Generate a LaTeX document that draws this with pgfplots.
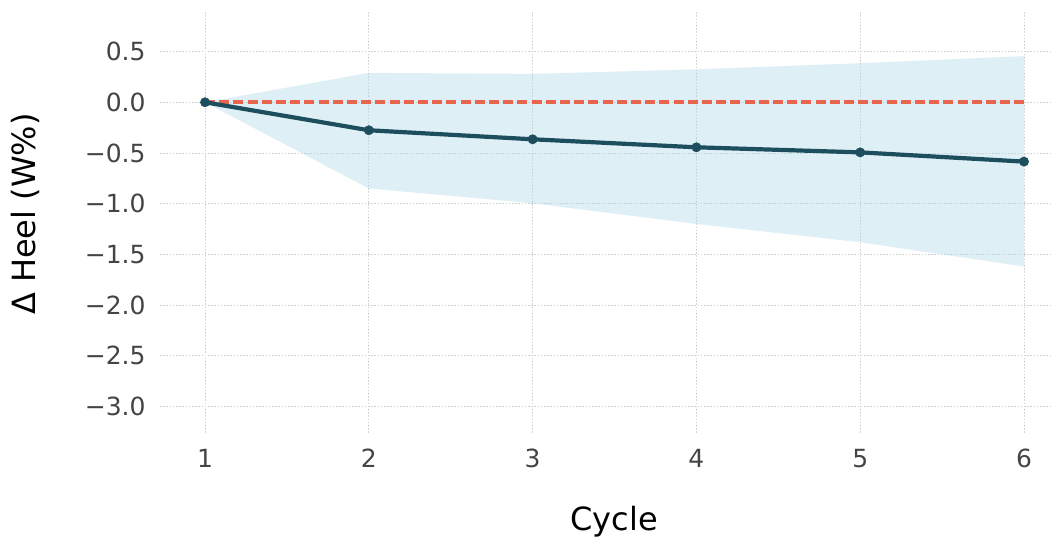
\documentclass[border=0pt]{standalone}
\usepackage{fontspec}
\setmainfont{DejaVu Sans}
\usepackage{pgfplots}
\pgfplotsset{compat=1.18}
\definecolor{meanline}{RGB}{29,78,93}
\definecolor{zeroline}{RGB}{233,100,76}
\definecolor{bandfill}{RGB}{173,216,230}
\definecolor{ticktext}{RGB}{68,68,68}
\begin{document}
\begin{tikzpicture}
\begin{axis}[
  name=ax,
  scale only axis,
  width=446.5pt, height=211pt,
  xmin=0.725, xmax=6.177,
  ymin=-3.261, ymax=0.900,
  xtick={1,2,3,4,5,6},
  ytick={-3,-2.5,-2,-1.5,-1,-0.5,0,0.5},
  yticklabels={−3.0,−2.5,−2.0,−1.5,−1.0,−0.5,0.0,0.5},
  /pgf/number format/assume math mode=true,
  axis line style={draw=none},
  major tick length=0pt,
  grid=major,
  grid style={gray!35, line width=0.45pt, dash pattern=on 0.8pt off 0.8pt},
  tick label style={font=\fontsize{12.5}{14}\selectfont, text=ticktext},
  yticklabel style={anchor=east, inner sep=0pt, xshift=-7pt},
  xticklabel style={anchor=north, inner sep=0pt, yshift=-8pt},
  label style={font=\fontsize{16}{19}\selectfont, text=black},
  xlabel={Cycle},
  ylabel={Δ Heel (W\%)},
  xlabel style={at={([xshift=3.75pt,yshift=-44.5pt]rel axis cs:0.5,0)}, anchor=center},
  ylabel style={at={([xshift=-67.5pt,yshift=4pt]rel axis cs:0,0.5)}, anchor=center, rotate=0},
  clip=false,
]
\addplot[draw=none, fill=bandfill, fill opacity=0.4] coordinates {
  (1,0) (2,0.29) (3,0.28) (4,0.325) (5,0.385) (6,0.455)
  (6,-1.62) (5,-1.38) (4,-1.20) (3,-0.996) (2,-0.85) (1,0)
} -- cycle;
\addplot[zeroline, line width=1.9pt, dash pattern=on 5pt off 2.1pt] coordinates {(1,0) (6,0)};
\addplot[meanline, line width=2.1pt, mark=*, mark size=2.3pt, mark options={solid, fill=meanline, draw=meanline, line width=0.3pt}] coordinates {
  (1,0) (2,-0.276) (3,-0.365) (4,-0.444) (5,-0.494) (6,-0.585)
};
\end{axis}
\pgfresetboundingbox
\path[use as bounding box] ([shift={(-80pt,-54.5pt)}]ax.south west) rectangle ([shift={(0pt,5.5pt)}]ax.north east);
\end{tikzpicture}
\end{document}
